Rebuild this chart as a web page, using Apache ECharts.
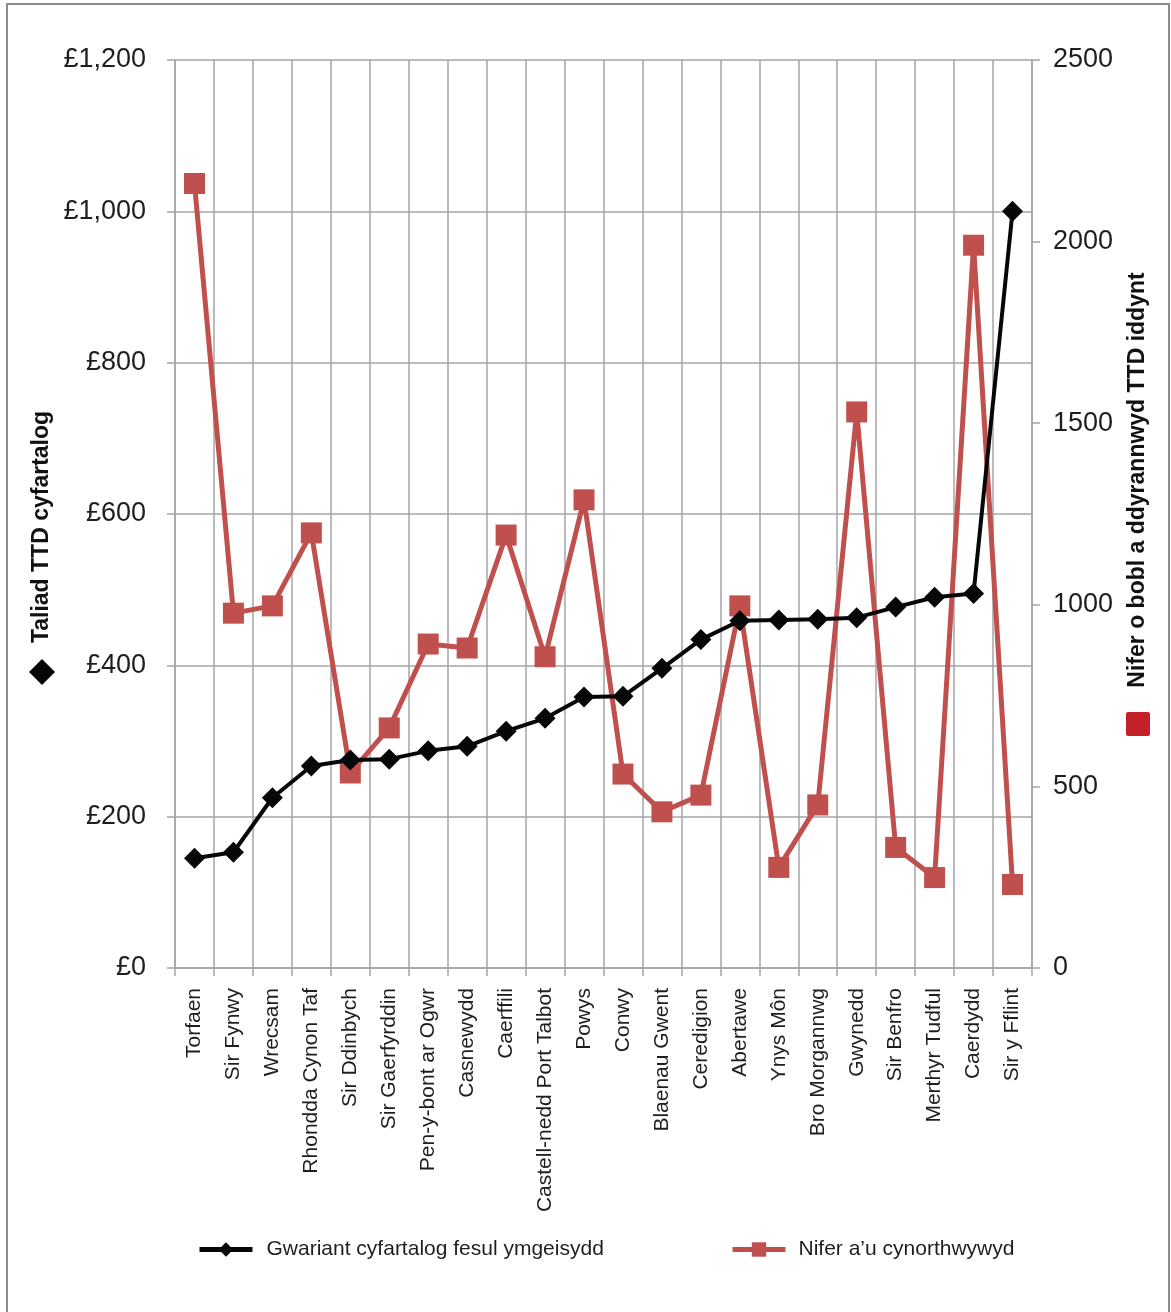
<!DOCTYPE html>
<html>
<head>
<meta charset="utf-8">
<script src="https://cdn.jsdelivr.net/npm/echarts@6/dist/echarts.min.js"></script>
<style>
html,body{margin:0;padding:0;background:#fff;}
#chart{width:1171px;height:1312px;}
</style>
</head>
<body>
<div id="chart"></div>
<script>
var categories = ['Torfaen','Sir Fynwy','Wrecsam','Rhondda Cynon Taf','Sir Ddinbych','Sir Gaerfyrddin','Pen-y-bont ar Ogwr','Casnewydd','Caerffili','Castell-nedd Port Talbot','Powys','Conwy','Blaenau Gwent','Ceredigion','Abertawe','Ynys Môn','Bro Morgannwg','Gwynedd','Sir Benfro','Merthyr Tudful','Caerdydd','Sir y Fflint'];
var averageSpend = [145, 153, 225, 267, 275, 276, 287, 293, 313, 330, 358, 359, 396, 434, 459, 460, 461, 463, 477, 490, 495, 1000];
var peopleHelped = [2160, 977, 997, 1198, 537, 661, 892, 881, 1192, 857, 1289, 534, 430, 476, 997, 277, 449, 1531, 332, 249, 1990, 230];
var seriesNames = ['Gwariant cyfartalog fesul ymgeisydd', 'Nifer a\u2019u cynorthwywyd'];
var leftTitle = 'Taliad TTD cyfartalog';
var rightTitle = 'Nifer o bobl a ddyrannwyd TTD iddynt';

var FONT = '"Liberation Sans", Arial, sans-serif';
var TXT = '#1e1e1e';
var GRIDC = '#a4a4a4';

function poundFmt(v){
  return '\u00a3' + String(v).replace(/\B(?=(\d{3})+(?!\d))/g, ',');
}
function plainFmt(v){ return String(v); }

var chart = echarts.init(document.getElementById('chart'), null, {renderer:'canvas'});
chart.setOption({
  backgroundColor:'#fff',
  animation:false,
  textStyle:{fontFamily:FONT},
  grid:{left:175, right:139, top:60, bottom:344, containLabel:false},
  legend:[
    {data:[seriesNames[0]], left:197, top:1239, padding:0, itemWidth:53, itemHeight:18,
     lineStyle:{width:5},
     textStyle:{fontSize:21, color:TXT, fontFamily:FONT, padding:[0,0,0,9]}},
    {data:[seriesNames[1]], left:730, top:1239, padding:0, itemWidth:53, itemHeight:18,
     lineStyle:{width:5},
     textStyle:{fontSize:21, color:TXT, fontFamily:FONT, padding:[0,0,0,8]}}
  ],
  xAxis:{
    type:'category', data:categories, boundaryGap:true,
    axisLine:{show:true, lineStyle:{color:GRIDC, width:1.5}},
    axisTick:{show:true, length:8, lineStyle:{color:GRIDC, width:1.5}},
    splitLine:{show:true, lineStyle:{color:GRIDC, width:1.5}},
    axisLabel:{rotate:90, margin:20, fontSize:21, color:TXT, fontFamily:FONT, interval:0}
  },
  yAxis:[
    {type:'value', min:0, max:1200, interval:200, position:'left',
     axisLine:{show:true, lineStyle:{color:GRIDC, width:1.5}},
     axisTick:{show:true, length:8, lineStyle:{color:GRIDC, width:1.5}},
     splitLine:{show:true, lineStyle:{color:GRIDC, width:1.5}},
     axisLabel:{formatter:poundFmt, margin:29, fontSize:27, color:TXT, fontFamily:FONT}},
    {type:'value', min:0, max:2500, interval:500, position:'right',
     axisLine:{show:true, lineStyle:{color:GRIDC, width:1.5}},
     axisTick:{show:true, length:8, lineStyle:{color:GRIDC, width:1.5}},
     splitLine:{show:false},
     axisLabel:{formatter:plainFmt, margin:21, fontSize:27, color:TXT, fontFamily:FONT}}
  ],
  series:[
    {name:seriesNames[0], type:'line', yAxisIndex:0, data:averageSpend, z:4,
     symbol:'diamond', symbolSize:21, showAllSymbol:true,
     lineStyle:{color:'#060808', width:4}, itemStyle:{color:'#060808'}},
    {name:seriesNames[1], type:'line', yAxisIndex:1, data:peopleHelped, z:3,
     symbol:'rect', symbolSize:21, showAllSymbol:true,
     lineStyle:{color:'#c0504d', width:5}, itemStyle:{color:'#c0504d'}}
  ],
  graphic:[
    {type:'rect', shape:{x:7, y:4, width:1162, height:1330}, style:{fill:'none', stroke:'#8c8c8c', lineWidth:2}, silent:true},
    {type:'text', x:42, y:527, rotation:Math.PI/2,
     style:{text:leftTitle, font:'bold 23px "Liberation Sans", Arial, sans-serif', fill:'#111', textAlign:'center', textVerticalAlign:'middle'}},
    {type:'polygon', shape:{points:[[42,659],[55,672],[42,685],[29,672]]}, style:{fill:'#050505'}},
    {type:'text', x:1138, y:480, rotation:Math.PI/2,
     style:{text:rightTitle, font:'bold 23px "Liberation Sans", Arial, sans-serif', fill:'#111', textAlign:'center', textVerticalAlign:'middle'}},
    {type:'rect', shape:{x:1126, y:712, width:24, height:24, r:2}, style:{fill:'#c4202a'}}
  ]
});
</script>
</body>
</html>
